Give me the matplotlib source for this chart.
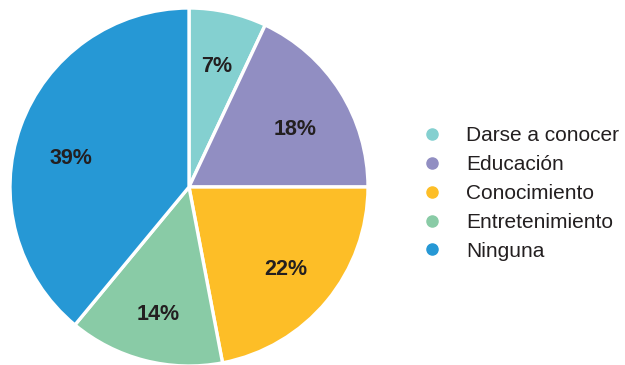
import matplotlib.pyplot as plt
from matplotlib.lines import Line2D

# Respuestas de la encuesta
categorias = ['Darse a conocer', 'Educación', 'Conocimiento', 'Entretenimiento', 'Ninguna']
porcentajes = [7, 18, 22, 14, 39]
colores = ['#84D0D0', '#918EC2', '#FDBE27', '#89CBA6', '#2698D5']

# pequeño ajuste vertical de cada etiqueta de porcentaje
ajuste_y = [-0.01, -0.055, -0.015, -0.035, -0.08]

plt.rcParams['font.family'] = ['Liberation Sans', 'DejaVu Sans']

fig = plt.figure(figsize=(6.25, 3.65), dpi=100)
ax = fig.add_axes([10 / 625, -1 / 365, 358 / 625, 358 / 365])

wedges, textos, autotextos = ax.pie(
    porcentajes,
    colors=colores,
    startangle=90,
    counterclock=False,
    radius=1,
    autopct='%d%%',
    pctdistance=0.7,
    wedgeprops=dict(edgecolor='white', linewidth=2.4),
    textprops=dict(color='#231F20', fontsize=15.5, fontweight='bold'),
)
for t, dy in zip(autotextos, ajuste_y):
    x, y = t.get_position()
    t.set_position((x, y + dy))

ax.set_xlim(-1, 1)
ax.set_ylim(-1, 1)
ax.set_aspect('equal')

handles = [Line2D([], [], marker='o', linestyle='none', markersize=8,
                  markerfacecolor=c, markeredgecolor=c) for c in colores]
fig.legend(handles, categorias, loc='center left',
           bbox_to_anchor=(422 / 625, 171.5 / 365),
           frameon=False, fontsize=15, handlelength=1.0, handletextpad=1.1,
           labelspacing=0.47, borderpad=0, borderaxespad=0,
           labelcolor='#231F20')

fig.savefig('out.png', dpi=100)
